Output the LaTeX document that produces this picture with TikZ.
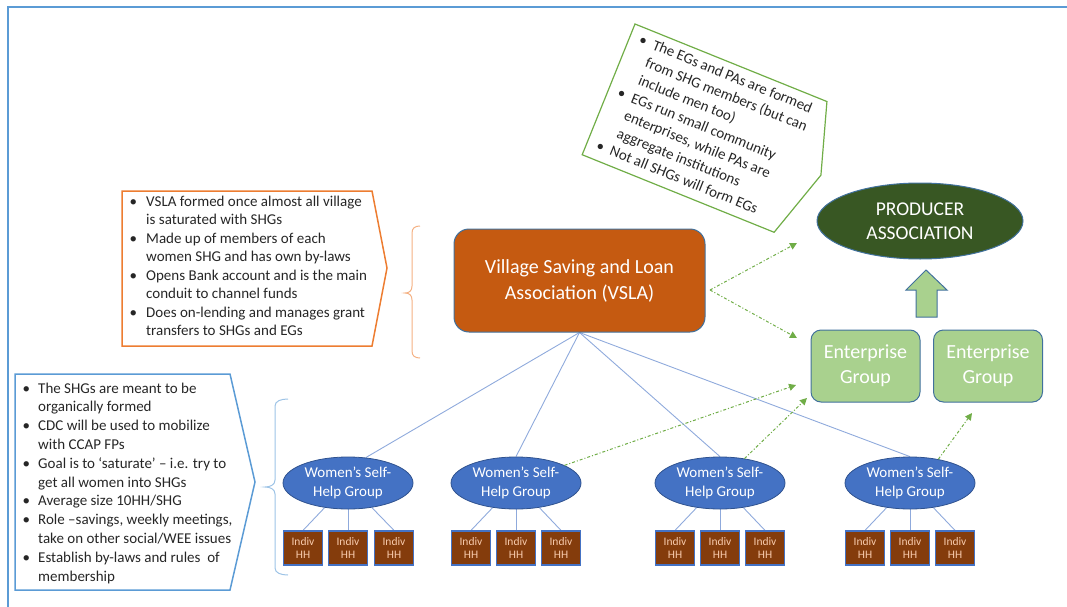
\documentclass[tikz,border=0pt]{standalone}
\usepackage{fontspec}
\setmainfont{Carlito}
\usetikzlibrary{shapes.geometric,arrows.meta}
\definecolor{frameblue}{HTML}{5B9BD5}
\definecolor{borderblue}{HTML}{41719C}
\definecolor{vslaorange}{HTML}{C55A11}
\definecolor{pagreen}{HTML}{385723}
\definecolor{eggreen}{HTML}{A9D18E}
\definecolor{shgblue}{HTML}{4472C4}
\definecolor{shgborder}{HTML}{2F528F}
\definecolor{hhbrown}{HTML}{843C0C}
\definecolor{hhtext}{HTML}{F8CBAD}
\definecolor{lineblue}{HTML}{8FAADC}
\definecolor{arrowgreen}{HTML}{70AD47}
\definecolor{calloutorange}{HTML}{ED7D31}
\definecolor{braceorange}{HTML}{F4B183}
\definecolor{braceblue}{HTML}{9DC3E6}
\definecolor{txtgray}{HTML}{262626}
\pgfdeclarelayer{bg}
\pgfsetlayers{bg,main}
\newcommand{\bu}[1]{\makebox[#1][l]{\textbullet}}
\newcommand{\bh}[1]{\hspace*{#1}}
\begin{document}
\begin{tikzpicture}[x=1pt,y=-1pt,
  vslabox/.style={draw=borderblue, fill=vslaorange, rounded corners=15pt, minimum width=251pt, minimum height=103pt, text=white, font=\fontsize{20}{26}\selectfont, align=center, line width=1pt},
  paell/.style={ellipse, draw=borderblue, fill=pagreen, minimum width=206pt, minimum height=76pt, inner sep=0pt, text=white, font=\fontsize{19.5}{23.5}\selectfont, align=center, line width=1pt},
  egbox/.style={draw=borderblue, fill=eggreen, rounded corners=10pt, minimum width=109pt, minimum height=72pt, text=white, font=\fontsize{20}{25}\selectfont, align=center, line width=1pt},
  shgell/.style={ellipse, draw=shgborder, fill=shgblue, minimum width=130pt, minimum height=52pt, inner sep=0pt, text=white, font=\fontsize{15}{19}\selectfont, align=center, line width=0.8pt},
  hhbox/.style={draw=shgblue, fill=hhbrown, minimum width=39pt, minimum height=34pt, inner sep=0pt, text=hhtext, font=\fontsize{11.5}{13}\selectfont, align=center, line width=1.2pt},
  tree/.style={draw=lineblue, line width=0.9pt},
  garrow/.style={draw=arrowgreen, line width=1pt, dash pattern=on 3pt off 2pt on 1pt off 2pt, -{Triangle[length=7pt,width=7pt]}},
  callouttext/.style={anchor=north west, inner sep=0pt, text=txtgray}
]
\useasboundingbox (0,0) rectangle (1067,607);
% frame
\draw[frameblue, line width=2pt] (8,607) -- (8,7) -- (1067,7);

% main nodes
\node[vslabox] (vsla) at (579.5,280.5) {Village Saving and Loan\\Association (VSLA)};
\node[paell] (pa) at (920,221) {PRODUCER\\ASSOCIATION};
\node[egbox] (eg1) at (865.5,366) {Enterprise\\Group};
\node[egbox] (eg2) at (988,366) {Enterprise\\Group};
\draw[fill=eggreen, draw=borderblue, line width=1pt] (926,270) -- (947,290) -- (937,290) -- (937,317) -- (916,317) -- (916,290) -- (906,290) -- cycle;

\foreach \i/\x in {1/348,2/516,3/720,4/910}{
  \node[shgell] (shg\i) at (\x,483) {Women’s Self-\\Help Group};
}
\foreach \i/\a/\b/\c in {1/303/348/394,2/471/516/561,3/675/720/765,4/865/910/955}{
  \node[hhbox] (hh\i a) at (\a,548) {Indiv\\HH};
  \node[hhbox] (hh\i b) at (\b,548) {Indiv\\HH};
  \node[hhbox] (hh\i c) at (\c,548) {Indiv\\HH};
}

% connectors
\begin{pgfonlayer}{bg}
  \draw[tree] (vsla.south) -- (shg1.55);
  \draw[tree] (vsla.south) -- (shg2.north);
  \draw[tree] (vsla.south) -- (shg3.north);
  \draw[tree] (vsla.south) -- (shg4.north);
  \foreach \i in {1,2,3,4}{
    \draw[tree] (shg\i) -- (hh\i a.north);
    \draw[tree] (shg\i) -- (hh\i b.north);
    \draw[tree] (shg\i) -- (hh\i c.north);
  }
\end{pgfonlayer}

\coordinate (gs) at (710,290);
\coordinate (ge1) at (797,243);
\coordinate (ge2) at (797,338);
\coordinate (ge3) at (796,385);
\coordinate (ge4) at (807,398);
\coordinate (ge5) at (972,413);
\draw[garrow] (gs) -- (ge1);
\draw[garrow] (gs) -- (ge2);
\draw[garrow] (shg2.20) -- (ge3);
\draw[garrow] (shg3.45) -- (ge4);
\draw[garrow] (shg4.40) -- (ge5);

% orange callout
\draw[calloutorange, line width=1.5pt] (122,191) -- (372,191) -- (387,268) -- (372,346) -- (122,346) -- cycle;
\node[callouttext, font=\fontsize{15}{18.5}\selectfont] (otext) at (129.5,193) {%
\begin{tabular}{@{}l@{}}
\bu{16.5pt}VSLA formed once almost all village\\
\bh{16.5pt}is saturated with SHGs\\
\bu{16.5pt}Made up of members of each\\
\bh{16.5pt}women SHG and has own by-laws\\
\bu{16.5pt}Opens Bank account and is the main\\
\bh{16.5pt}conduit to channel funds\\
\bu{16.5pt}Does on-lending and manages grant\\
\bh{16.5pt}transfers to SHGs and EGs
\end{tabular}};
\draw[braceorange, line width=1pt] (420,226) .. controls (415,226) and (412,228) .. (412,233) -- (412,286) .. controls (412,291) and (409,293) .. (405,293) .. controls (409,293) and (412,295) .. (412,300) -- (412,351) .. controls (412,356) and (415,358) .. (420,358);

% blue callout
\draw[frameblue, line width=1.5pt] (15,374) -- (230,374) -- (255,482) -- (230,590) -- (15,590) -- cycle;
\node[callouttext, font=\fontsize{15}{18.8}\selectfont] (btext) at (22.5,379.8) {%
\begin{tabular}{@{}l@{}}
\bu{15.5pt}The SHGs are meant to be\\
\bh{15.5pt}organically formed\\
\bu{15.5pt}CDC will be used to mobilize\\
\bh{15.5pt}with CCAP FPs\\
\bu{15.5pt}Goal is to ‘saturate’ – i.e. try to\\
\bh{15.5pt}get all women into SHGs\\
\bu{15.5pt}Average size 10HH/SHG\\
\bu{15.5pt}Role –savings, weekly meetings,\\
\bh{15.5pt}take on other social/WEE issues\\
\bu{15.5pt}Establish by-laws and rules\ \ of\\
\bh{15.5pt}membership
\end{tabular}};
\draw[braceblue, line width=1pt] (288,399) .. controls (281,399) and (275,401) .. (275,406) -- (275,480) .. controls (275,485) and (270,487) .. (265,487) .. controls (270,487) and (275,489) .. (275,494) -- (275,568) .. controls (275,573) and (281,575) .. (288,575);

% green rotated callout
\begin{scope}[shift={(635,24)}, rotate=-22]
  \draw[arrowgreen, line width=1.2pt] (0,0) -- (207,0) -- (229,70.5) -- (207,141) -- (0,141) -- cycle;
  \node[callouttext, transform shape, font=\fontsize{15}{19}\selectfont] (gtext) at (10,3.7) {%
  \begin{tabular}{@{}l@{}}
  \bu{14.6pt}The EGs and PAs are formed\\
  \bh{14.6pt}from SHG members (but can\\
  \bh{14.6pt}include men too)\\
  \bu{14.6pt}EGs run small community\\
  \bh{14.6pt}enterprises, while PAs are\\
  \bh{14.6pt}aggregate institutions\\
  \bu{14.6pt}Not all SHGs will form EGs
  \end{tabular}};
\end{scope}
\end{tikzpicture}
\end{document}
